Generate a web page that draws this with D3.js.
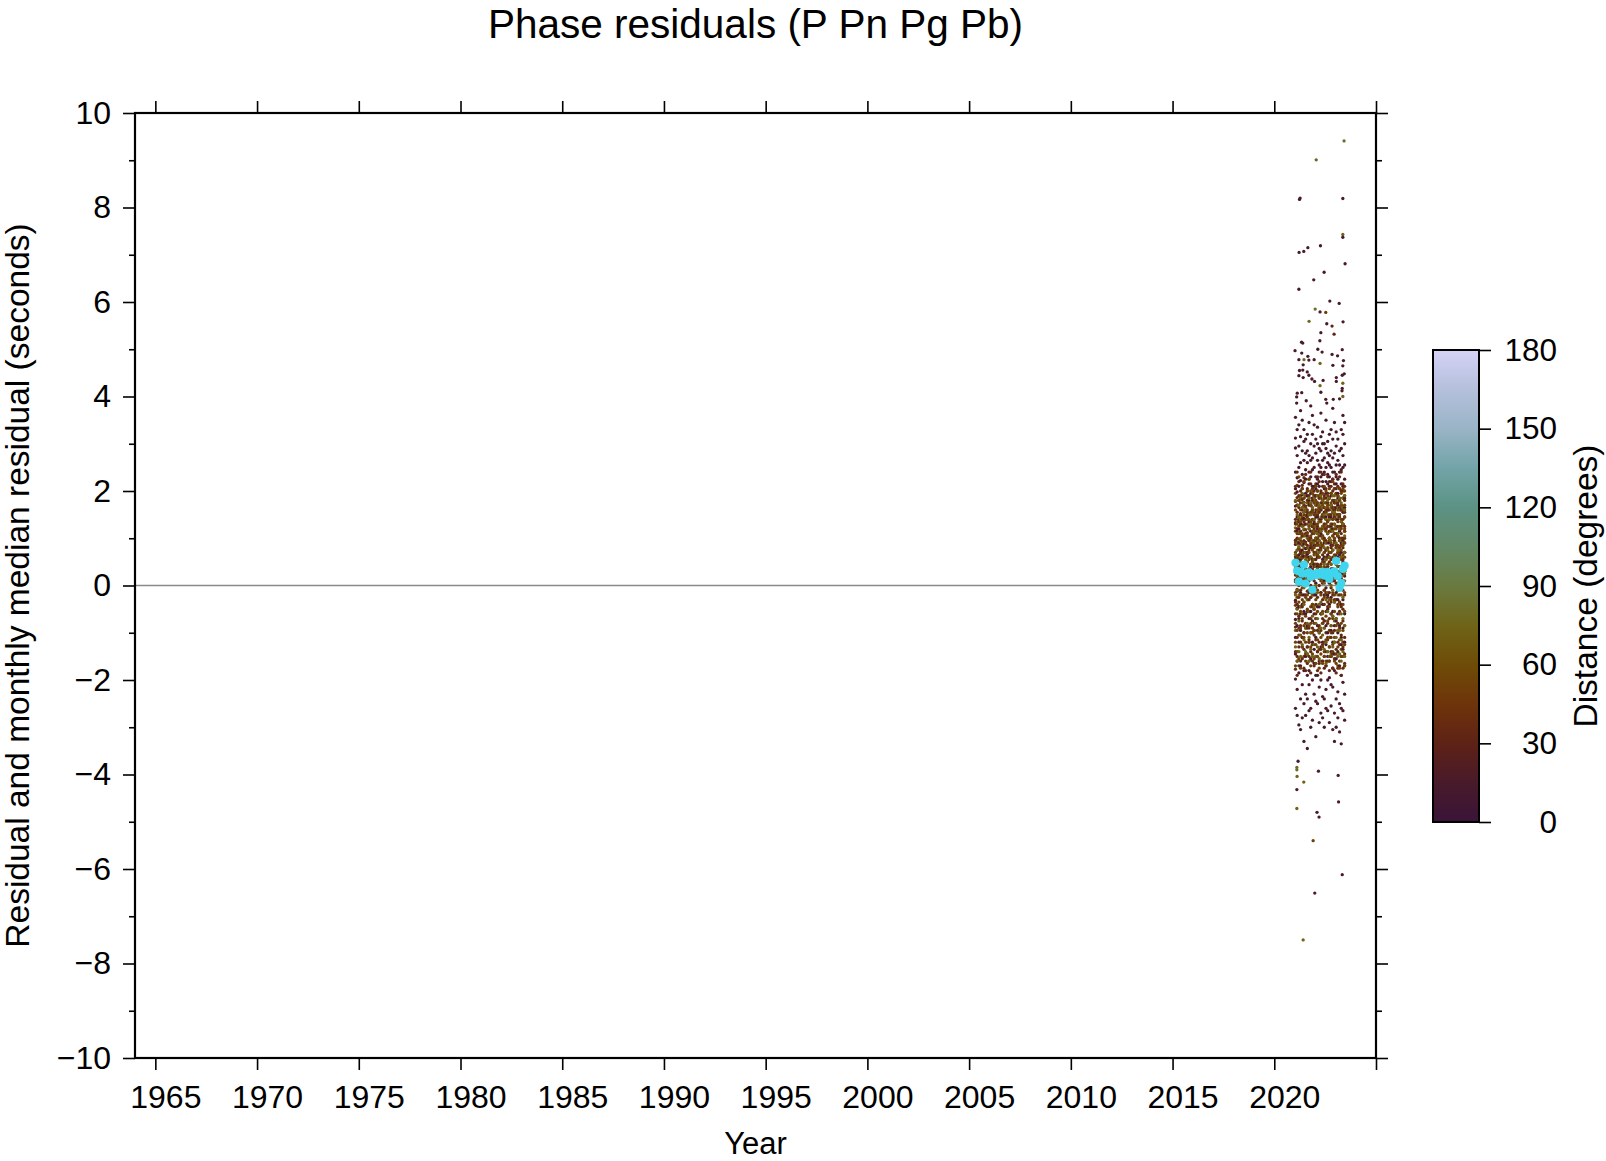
<!DOCTYPE html>
<html>
<head>
<meta charset="utf-8">
<script src="https://cdn.jsdelivr.net/npm/d3@7"></script>
<style>
  html, body { margin: 0; padding: 0; background: #ffffff; }
  svg { display: block; font-family: "Liberation Sans", Arial, Helvetica, sans-serif; }
</style>
</head>
<body>
<svg id="chart" width="1606" height="1161"></svg>
<script>
// ---------------- DATA ----------------
const chartTitle = "Phase residuals (P Pn Pg Pb)";
const xLabel = "Year";
const yLabel = "Residual and monthly median residual (seconds)";
const cbLabel = "Distance (degrees)";

const xTicks = [1965, 1970, 1975, 1980, 1985, 1990, 1995, 2000, 2005, 2010, 2015, 2020, 2025];
const yTicks = [-10, -8, -6, -4, -2, 0, 2, 4, 6, 8, 10];
const yMinorTicks = [-9, -7, -5, -3, -1, 1, 3, 5, 7, 9];
const cbTicks = [0, 30, 60, 90, 120, 150, 180];

// colour table for distance (degrees)
const cptDistance = [0, 15, 30, 45, 60, 75, 90, 105, 120, 135, 150, 165, 180];
const cptColors = ["#3a1438", "#481a2a", "#5e2216", "#6e340a", "#6e4c08", "#6f6418", "#6a7a40",
                   "#628866", "#5c9284", "#72a4a8", "#9ab4c6", "#b4c0dc", "#d6d2f6"];

// months of the record
const monthLabels = ["2021-01","2021-02","2021-03","2021-04","2021-05","2021-06","2021-07","2021-08","2021-09","2021-10","2021-11","2021-12",
                     "2022-01","2022-02","2022-03","2022-04","2022-05","2022-06","2022-07","2022-08","2022-09","2022-10","2022-11","2022-12",
                     "2023-01","2023-02","2023-03","2023-04","2023-05","2023-06"];

// monthly median residual (s)
const medianResidual = [0.48, 0.31, 0.08, 0.29, 0.25, 0.44, 0.04, 0.26, 0.28, 0.18, -0.09, 0.24, 0.22, 0.27, 0.23,
                        0.25, 0.29, 0.21, 0.26, 0.29, 0.14, 0.25, 0.27, 0.30, 0.52, 0.20, -0.05, 0.05, 0.35, 0.42];

// representative distance of each distance band (degrees)
const bandDistance = [14, 36, 52, 74];

// per month residuals in hundredths of a second, by band [near, regional, tele, far]
const residualsByMonth = [
 [[312,-145,87,240,-260,35,168,-72,291,12,-198,133,205,-31,356,-110],[45,-88,130,22,-140,96,178,-35,61,-177,140,8,210,-60],[70,-42,115,-120,28,160,-15,92,-170,55,195,-80],[40,-95,122,10,180,-130,66,-20]],
 [[-220,145,48,275,-85,198,-160,330,92,-12,228,-275,60,170,-48,115],[120,-40,75,-150,30,186,-110,52,240,-8,100,-190,155,15],[-60,130,38,88,-140,170,5,62,-95,212,110,-25],[90,-50,150,20,-160,75,135,-10]],
 [[180,-70,295,25,-185,120,250,-295,65,140,-120,340,10,210,-45,90],[-65,110,42,165,-130,80,5,220,-25,135,-170,58,190,-90],[20,145,-105,78,180,-35,55,125,-155,98,0,230],[-75,112,35,170,-20,82,-140,145]],
 [[260,-15,130,-240,72,315,-95,185,8,-170,222,55,150,-60,370,-305],[88,-120,152,18,-45,200,115,-160,68,-10,175,-85,40,128],[-90,50,160,110,-20,75,-175,135,30,190,-55,95],[60,-105,140,22,185,-45,100,-150]],
 [[-110,205,40,285,-210,105,165,-40,235,-280,75,350,-130,18,192,128],[30,160,-75,105,-155,60,212,-20,140,85,-110,182,12,-45],[110,-30,65,175,-130,40,145,-70,92,205,-5,58],[125,-60,30,165,-125,88,10,195]],
 [[155,-180,62,305,-55,218,20,-250,142,265,-100,88,330,-20,176,-330],[-35,95,170,-100,48,135,-175,15,228,70,-60,118,-135,185],[45,-85,150,15,105,-150,185,70,-35,128,220,-110],[-40,80,155,-115,48,120,-5,175]],
 [[225,-90,110,-230,45,280,-150,160,3,245,-60,130,-275,310,78,195],[140,-20,62,190,-145,92,25,-80,168,108,-180,45,235,0],[-25,118,62,190,-120,35,148,-65,88,10,165,-160],[105,25,-90,160,-140,55,190,70]],
 [[-130,190,66,260,-240,140,-30,320,105,-190,200,18,285,-85,150,-345],[70,-130,145,28,205,-55,112,-165,85,180,-12,50,-90,155],[130,-50,80,200,-100,25,160,-145,60,110,-20,175],[-30,140,50,-145,100,175,-80,15]],
 [[95,-210,275,30,-70,215,135,-265,180,-15,345,-120,60,240,-180,170],[-90,120,35,175,-150,75,225,-30,150,10,-115,190,95,-55],[55,-120,140,20,185,-85,100,-10,225,70,-160,125],[80,-110,150,30,-55,185,120,-160]],
 [[170,-55,300,-155,40,230,-260,115,195,-25,265,-100,80,150,-300,380],[20,155,-70,100,215,-140,60,130,-25,170,-185,85,0,240],[-45,90,170,-130,45,135,-80,200,15,105,-170,60],[130,-15,60,175,-100,20,150,-135]],
 [[-75,245,20,185,-200,320,90,-120,160,270,-40,55,-285,210,125,360],[110,-45,180,55,-125,140,15,205,-90,80,165,-160,35,125],[75,-100,155,30,-40,195,115,-145,50,160,-20,90],[-65,95,165,-20,130,-150,45,200]],
 [[130,-165,210,45,-95,295,175,-230,85,-10,250,-135,340,115,-60,190],[-50,95,150,-105,40,200,120,-20,70,-170,185,10,135,-80],[140,-15,80,-155,110,175,25,-95,190,65,-50,125],[55,-125,115,185,-45,90,20,140]],
 [[205,-20,155,-190,70,280,-110,230,5,310,-245,145,-70,190,100,-320],[85,170,-115,30,130,-60,215,55,-150,100,190,-5,-40,160],[-70,115,45,180,-125,70,150,-30,95,210,-165,20],[100,-80,170,40,-150,125,0,65]],
 [[-45,175,265,-140,100,225,-250,40,300,-85,145,215,-190,60,335,120],[150,-25,90,-140,200,45,125,-95,170,20,-180,110,65,230],[35,160,-55,100,200,-115,65,130,-10,175,-150,85],[-15,155,75,-130,190,35,110,-70]],
 [[115,-100,240,20,-215,165,290,-45,75,210,-160,135,-290,255,30,185],[40,135,-85,185,0,-165,95,155,-40,220,60,-120,115,15],[120,-90,60,165,-135,20,140,-40,85,190,-175,105],[70,-100,135,15,-40,170,95,-155]],
 [[250,-130,80,195,-60,315,-270,140,25,230,-200,110,285,-15,160,365],[-60,115,200,25,-135,80,160,-15,105,-185,175,45,240,-95],[10,135,-110,75,185,-60,120,40,-145,165,90,-20],[145,-35,85,-160,115,190,25,-90]],
 [[-160,220,55,300,-80,180,105,-235,265,15,-120,150,325,-40,235,-280],[125,-30,65,175,-160,100,20,210,-70,145,-125,85,180,5],[-80,150,50,120,-130,195,15,85,-55,170,105,-165],[35,165,-105,100,10,-60,180,125]],
 [[90,-240,185,270,-20,130,-150,240,60,-300,205,155,-75,300,10,120],[15,190,-120,70,145,-40,235,100,-175,50,-75,165,130,-10],[95,-25,185,-140,40,125,-90,70,210,-10,145,-150],[-90,120,45,175,-135,80,150,5]],
 [[175,-85,290,-170,120,35,250,-220,145,-5,195,-125,350,75,-260,220],[95,-140,160,35,-55,205,120,-100,75,185,-15,140,-170,55],[155,-65,30,175,-115,90,130,-20,60,200,-160,115],[20,-120,165,90,-30,140,55,-165]],
 [[-20,260,110,-200,215,65,-100,305,160,-265,40,235,-50,135,280,-150],[160,-80,40,195,-110,125,10,-45,175,90,-160,230,60,-25],[-35,110,165,20,-140,80,190,-75,135,45,-115,170],[110,-55,180,25,-140,75,150,-15]],
 [[145,-195,60,230,-40,185,-290,275,100,-110,320,15,210,-160,90,255],[-15,140,70,-130,185,30,115,-180,220,50,-70,160,5,100],[60,-130,125,185,-45,95,-160,20,150,70,-95,205],[-110,60,140,-30,185,100,-150,30]],
 [[220,-60,125,-255,285,35,-140,170,250,-25,85,-210,330,145,-95,190],[55,-110,130,210,-35,80,170,-150,20,115,-85,195,150,-5],[130,10,-100,70,175,-150,45,115,-30,195,90,-60],[45,170,-85,120,0,-145,95,165]],
 [[-120,180,35,270,-215,120,240,-55,75,310,-175,155,10,-305,225,375],[130,-65,20,165,-145,105,200,-20,60,-175,140,85,225,-100],[-15,140,75,-125,180,35,105,-70,160,-140,15,220],[75,-130,155,20,-65,190,115,-10]],
 [[160,-35,280,-180,95,205,-270,130,30,345,-85,240,175,-145,60,-330],[25,180,-95,110,215,-155,50,145,-30,95,175,-120,10,160],[90,-110,165,30,-55,205,120,-160,65,150,-20,100],[-35,130,60,190,-120,25,155,-75]],
 [[-75,230,50,195,-240,140,295,-15,110,-155,255,80,-300,215,165,325],[110,-30,175,45,-135,85,205,-70,150,5,-185,125,65,235],[25,175,-85,110,55,-145,140,195,-30,80,-165,120],[150,-70,90,15,180,-110,45,125]],
 [[195,-140,105,265,-30,170,-225,60,310,-100,140,225,-280,20,185,-60],[-40,150,85,-120,190,30,125,-175,70,210,-10,105,-80,175],[105,-45,160,5,-130,85,190,-95,40,135,-170,70],[-95,40,165,110,-20,145,-150,75]],
 [[115,-250,240,30,-85,205,150,-170,285,65,-35,180,-310,255,100,395],[80,-125,165,15,230,-55,120,-160,95,40,185,-90,145,-20],[-60,95,180,-115,40,150,70,-175,125,10,205,-35],[120,-40,75,185,-145,30,160,-95]],
 [[245,-110,70,290,-190,135,215,-40,160,-260,330,25,-125,200,90,-335],[35,170,-105,125,60,-150,200,15,110,-45,160,-190,85,240],[140,-20,75,195,-135,55,120,-80,170,20,-150,100],[60,-115,135,5,175,-60,95,-160]],
 [[-30,210,130,-205,275,50,-135,185,320,-90,95,250,-265,155,5,360],[140,-75,55,200,-130,100,165,-10,80,-175,215,25,130,-50],[45,185,-95,130,10,-150,160,85,-40,205,65,-120],[165,-25,90,-140,130,40,185,-70]],
 [[185,-170,90,255,-60,300,-230,145,20,225,-120,115,345,-285,70,165],[-20,125,190,-145,70,155,-85,30,210,-165,100,45,180,-110],[115,-55,170,30,-125,90,200,-15,145,-170,60,120],[25,160,-85,105,-150,70,190,10]]
];

// individually read outlying picks: [decimal year, residual (s), distance (deg)]
const outlierPicks = [
 [2023.43,9.41,80],[2022.06,9.01,75],[2021.24,8.17,15],[2021.27,8.20,15],[2023.37,8.19,15],
 [2023.37,7.43,75],[2023.37,7.37,15],[2021.22,7.05,15],[2021.45,7.07,15],[2021.65,7.15,15],
 [2022.27,7.19,15],[2023.48,6.81,15],[2022.45,6.63,15],[2021.94,6.47,15],[2021.21,6.27,15],
 [2022.73,6.02,15],[2023.19,5.97,15],[2022.01,5.85,80],[2022.25,5.79,15],[2022.53,5.78,50],
 [2021.71,5.59,80],[2023.38,5.58,15],[2022.58,5.54,15],[2022.84,5.49,30],[2022.29,5.35,15],
 [2022.94,5.32,30],[2021.34,5.15,15],[2021.40,5.13,15],[2022.24,5.18,15],[2021.02,4.97,15],
 [2021.35,4.92,15],[2022.14,5.00,15],[2022.35,4.94,15],[2021.65,4.85,15],[2022.84,4.89,15],
 [2023.11,4.86,15],[2023.34,4.99,15],[2021.21,4.78,15],[2021.46,4.78,80],[2021.70,4.77,15],
 [2021.96,4.78,15],[2023.40,4.76,15],[2023.37,4.65,15],[2021.42,4.67,15],[2022.25,4.70,75],
 [2022.88,4.66,15],[2021.24,4.55,15],[2021.40,4.56,15],[2021.21,4.44,15],[2021.42,4.40,15],
 [2021.62,4.52,15],[2021.70,4.45,15],[2021.85,4.37,15],[2021.98,4.32,15],[2022.40,4.34,15],
 [2023.05,4.40,15],[2023.05,4.32,15],[2023.34,4.45,15],[2023.44,4.48,15],[2023.37,4.28,75],
 [2023.34,4.17,15],[2023.33,4.12,15],[2023.37,4.00,75],[2021.13,4.07,15],[2021.35,4.08,15],
 [2021.10,3.99,15],[2021.10,3.86,15],[2022.29,4.09,15],[2022.25,4.23,75],[2022.53,3.94,15],
 [2022.58,3.86,15],[2022.90,3.94,15],[2021.57,3.91,15],
 [2021.17,-3.72,15],[2021.11,-3.85,80],[2021.11,-3.90,80],[2021.12,-4.04,75],[2021.45,-4.16,70],
 [2022.17,-3.93,15],[2023.14,-4.02,15],[2021.11,-4.32,15],[2021.11,-4.72,75],[2023.16,-4.58,15],
 [2022.10,-4.80,15],[2022.20,-4.90,15],[2021.91,-5.40,50],[2023.34,-6.12,15],[2021.99,-6.51,15],
 [2021.42,-7.50,75]
];

// ---------------- DRAWING ----------------
const W = 1606, H = 1161;
const plot = { left: 135, top: 113, right: 1376, bottom: 1058 };
const svg = d3.select("#chart");

const x = d3.scaleLinear().domain([1964, 2025]).range([plot.left, plot.right]);
const y = d3.scaleLinear().domain([-10, 10]).range([plot.bottom, plot.top]);
const color = d3.scaleLinear().domain(cptDistance).range(cptColors).interpolate(d3.interpolateRgb).clamp(true);

const monthYear = monthLabels.map(s => { const [yy, mm] = s.split("-").map(Number); return yy + (mm - 0.5) / 12; });

// zero line
svg.append("line")
  .attr("x1", plot.left).attr("x2", plot.right)
  .attr("y1", y(0)).attr("y2", y(0))
  .attr("stroke", "#8a8a8a").attr("stroke-width", 1.3);

// scatter points
const pts = [];
residualsByMonth.forEach((bands, i) => {
  bands.forEach((vals, b) => {
    vals.forEach(v => pts.push({ t: monthYear[i], r: v / 100, d: bandDistance[b] }));
  });
});
outlierPicks.forEach(p => pts.push({ t: p[0], r: p[1], d: p[2] }));

svg.append("g").selectAll("circle").data(pts).join("circle")
  .attr("cx", d => x(d.t)).attr("cy", d => y(d.r))
  .attr("r", 1.65)
  .attr("fill", d => color(d.d));

// monthly medians
svg.append("g").selectAll("circle").data(medianResidual).join("circle")
  .attr("cx", (d, i) => x(monthYear[i])).attr("cy", d => y(d))
  .attr("r", 4.1)
  .attr("fill", "#3fd5ee");

// axes
const fontSize = 32;
function styleAxis(g) {
  g.select(".domain").remove();
  g.selectAll(".tick line").attr("stroke", "#000").attr("stroke-width", 1.6);
  g.selectAll(".tick text").attr("font-size", fontSize).attr("fill", "#000")
    .attr("font-family", "'Liberation Sans', Arial, sans-serif");
}
const yFmt = d => (d < 0 ? "\u2212" + Math.abs(d) : String(d));

const xAxisG = svg.append("g").attr("transform", `translate(0,${plot.bottom})`)
  .call(d3.axisBottom(x).tickValues(xTicks).tickSize(12).tickPadding(15)
        .tickFormat(d => d === 2025 ? "" : String(d)))
  .call(styleAxis);
xAxisG.selectAll(".tick text").attr("dx", 10);
svg.append("g").attr("transform", `translate(0,${plot.top})`)
  .call(d3.axisTop(x).tickValues(xTicks).tickSize(12).tickFormat(""))
  .call(styleAxis);
svg.append("g").attr("transform", `translate(${plot.left},0)`)
  .call(d3.axisLeft(y).tickValues(yTicks).tickSize(12).tickPadding(12).tickFormat(yFmt))
  .call(styleAxis);
svg.append("g").attr("transform", `translate(${plot.left},0)`)
  .call(d3.axisLeft(y).tickValues(yMinorTicks).tickSize(6).tickFormat(""))
  .call(styleAxis);
svg.append("g").attr("transform", `translate(${plot.right},0)`)
  .call(d3.axisRight(y).tickValues(yTicks).tickSize(12).tickFormat(""))
  .call(styleAxis);
svg.append("g").attr("transform", `translate(${plot.right},0)`)
  .call(d3.axisRight(y).tickValues(yMinorTicks).tickSize(6).tickFormat(""))
  .call(styleAxis);

// frame
svg.append("rect")
  .attr("x", plot.left).attr("y", plot.top)
  .attr("width", plot.right - plot.left).attr("height", plot.bottom - plot.top)
  .attr("fill", "none").attr("stroke", "#000").attr("stroke-width", 2.2);

// titles
svg.append("text").attr("x", (plot.left + plot.right) / 2).attr("y", 38)
  .attr("text-anchor", "middle").attr("font-size", 40.5).text(chartTitle);
svg.append("text").attr("x", (plot.left + plot.right) / 2).attr("y", 1154)
  .attr("text-anchor", "middle").attr("font-size", 31).text(xLabel);
svg.append("text")
  .attr("transform", `translate(29,${(plot.top + plot.bottom) / 2}) rotate(-90)`)
  .attr("text-anchor", "middle").attr("font-size", 33.5).text(yLabel);

// colour bar
const cb = { left: 1433, right: 1479, top: 350, bottom: 822 };
const cbScale = d3.scaleLinear().domain([0, 180]).range([cb.bottom, cb.top]);
const defs = svg.append("defs");
const grad = defs.append("linearGradient").attr("id", "cbgrad")
  .attr("x1", 0).attr("x2", 0).attr("y1", 1).attr("y2", 0);
cptDistance.forEach((d, i) => {
  grad.append("stop").attr("offset", d / 180).attr("stop-color", cptColors[i]);
});
svg.append("rect")
  .attr("x", cb.left).attr("y", cb.top)
  .attr("width", cb.right - cb.left).attr("height", cb.bottom - cb.top)
  .attr("fill", "url(#cbgrad)").attr("stroke", "#000").attr("stroke-width", 2);
const cbAxis = svg.append("g").attr("transform", `translate(${cb.right},0)`)
  .call(d3.axisRight(cbScale).tickValues(cbTicks).tickSize(12).tickPadding(6).tickFormat(d => String(d)))
  .call(styleAxis);
cbAxis.selectAll(".tick text").attr("text-anchor", "end").attr("x", 78).attr("font-size", 31.5);
svg.append("text")
  .attr("transform", `translate(1597,${(cb.top + cb.bottom) / 2}) rotate(-90)`)
  .attr("text-anchor", "middle").attr("font-size", 33.5).text(cbLabel);
</script>
</body>
</html>
